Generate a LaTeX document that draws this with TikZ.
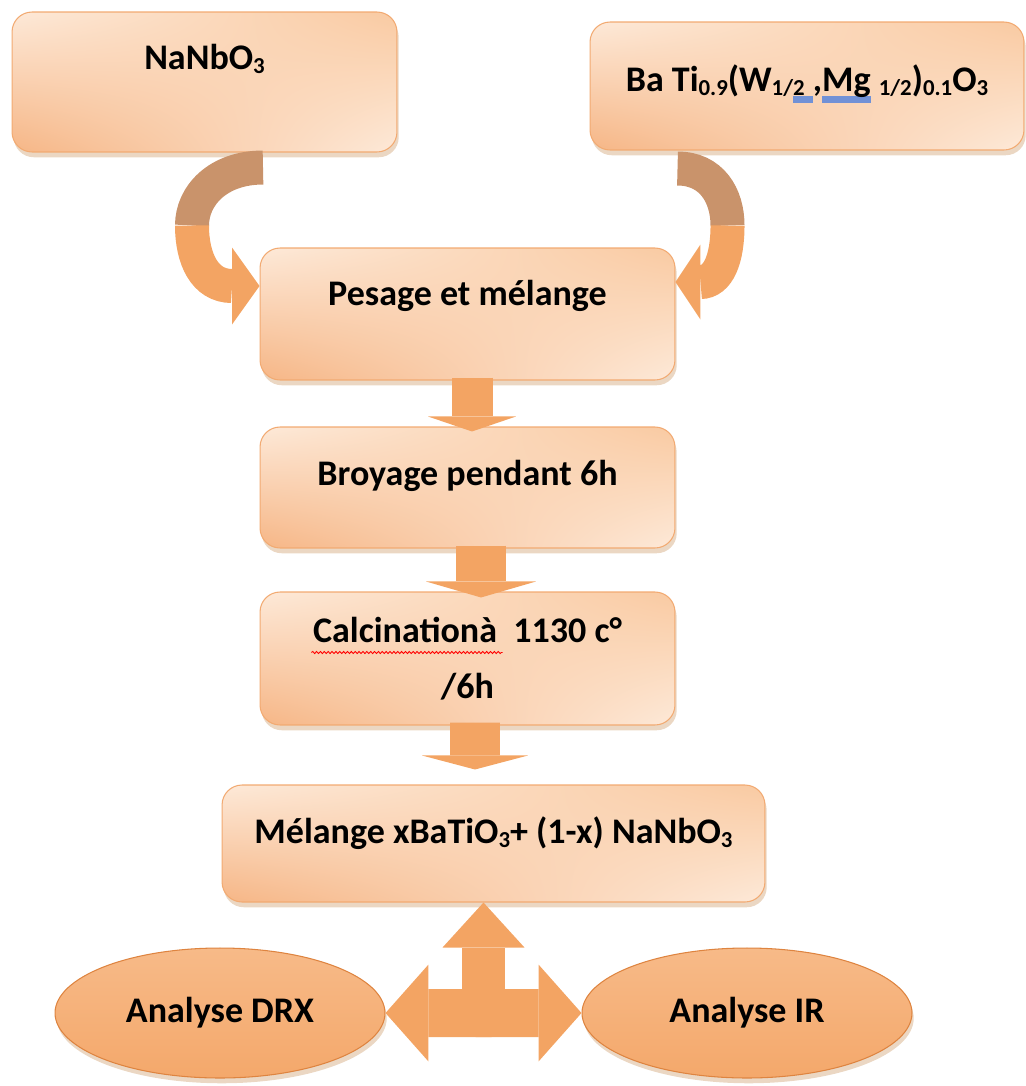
\documentclass[tikz,border=0pt]{standalone}
\usepackage{fontspec}
\setmainfont{Carlito}
\usepackage{calc}
\usetikzlibrary{arrows.meta,calc,positioning,shapes,shadows,shadings}
\usetikzlibrary{decorations.pathmorphing}
\definecolor{boxedge}{HTML}{F2AA72}
\definecolor{boxdark}{HTML}{F6B686}
\definecolor{boxmid}{HTML}{F9CAA2}
\definecolor{boxlight}{HTML}{FDE9D8}
\definecolor{ovaltop}{HTML}{F7BA88}
\definecolor{ovalmid}{HTML}{F1923E}
\definecolor{ovalbot}{HTML}{F4A86B}
\definecolor{ovaledge}{HTML}{DE8440}
\definecolor{flowfill}{HTML}{F3A463}
\definecolor{backfill}{HTML}{C9936B}
\definecolor{markblue}{HTML}{7191D6}
\newcommand\subs[1]{\raisebox{-0.12em}{\fontsize{13}{13}\selectfont #1}}
\newcommand\gmark[1]{\rlap{\textcolor{markblue}{\rule[-0.32em]{\widthof{#1}}{0.2em}}}#1}
\tikzset{
chart/.style={x=0.02cm,y=-0.02cm,font=\bfseries\fontsize{20.5}{32}\selectfont},
stage/.style={rectangle,rounded corners=0.4cm,draw=boxedge,line width=0.6pt,
    shade,lower left=boxdark,upper right=boxmid,upper left=boxlight,lower right=boxlight,
    drop shadow={shadow xshift=1pt,shadow yshift=-3pt,opacity=0.45,fill=brown!70},
    minimum width=8.3cm,minimum height=#1,align=center},
stage/.default={2.6cm},
oval/.style={ellipse,draw=ovaledge,line width=0.6pt,
    shade,top color=ovaltop,middle color=ovalmid,bottom color=ovalbot,
    drop shadow={shadow xshift=1pt,shadow yshift=-3pt,opacity=0.45,fill=brown!70},
    minimum width=6.6cm,minimum height=2.6cm},
fat/.style={draw=flowfill,line width=#1},
feed/.style={line width=0.68cm},
spell/.style={draw=red,line width=0.5pt,decorate,
    decoration={snake,amplitude=0.6pt,segment length=2.2pt}},
}

\begin{document}
\begin{tikzpicture}[chart]
    \useasboundingbox (0,0) rectangle (1026,1086);

    \node[stage=2.8cm,minimum width=7.7cm,text depth=1cm] (na) at (204.5,82) {NaNbO\subs{3}};
    \node[stage=2.56cm,minimum width=8.68cm,text depth=0.32cm] (bt) at (807,86)
        {Ba Ti\subs{0.9}(W\subs{1/}\gmark{\subs{2}\ },\gmark{Mg} \subs{1/2})\subs{0.1}O\subs{3}};
    \node[stage=2.64cm,text depth=0.84cm] (pes) at (467.5,314) {Pesage et mélange};
    \node[stage=2.42cm,text depth=0.58cm] (bro) at (467.5,487.5) {Broyage pendant 6h};
    \node[stage=2.66cm] (cal) at (467.5,658.5) {Calcinationà\ \ 1130 c°\\/6h};
    \node[stage=2.34cm,minimum width=10.86cm,text depth=0.54cm] (mel) at (493.5,843.5)
        {Mélange xBaTiO\subs{3}+ (1-x) NaNbO\subs{3}};
    \node[oval] (drx) at (220,1013) {Analyse DRX};
    \node[oval] (ir) at (747,1013) {Analyse IR};

    \draw[spell] ($(cal.center)+(-156,-6)$) -- ($(cal.center)+(35,-6)$);

    % curved feeds into the weighing step
    \coordinate (lstart) at ($(na.south)+(58.5,15)$);
    \coordinate (lturn) at ($(lstart)+(-71,58)$);
    \draw[feed,draw=backfill] (lstart) .. controls +(-45,0) and +(0,-30) .. (lturn);
    \draw[feed,draw=flowfill,-{Triangle[length=0.55cm,width=1.54cm,line width=0pt]}]
        (lturn) .. controls +(0,33) and +(-55,0) .. ($(pes.west)+(0,-28)$);
    \coordinate (rstart) at ($(bt.south west)+(88,18)$);
    \coordinate (rturn) at ($(rstart)+(50,57)$);
    \draw[feed,draw=backfill] (rstart) .. controls +(34,0) and +(0,-30) .. (rturn);
    \draw[feed,draw=flowfill,-{Triangle[length=0.5cm,width=1.5cm,line width=0pt]}]
        (rturn) .. controls +(0,33) and +(43,0) .. ($(pes.east)+(0,-32)$);

    \draw[fat=0.82cm,-{Triangle[length=0.3cm,width=1.76cm,line width=0pt]}]
        ($(pes.south)+(4.5,-3)$) -- ($(bro.north)+(4.5,5)$);
    \draw[fat=1cm,-{Triangle[length=0.32cm,width=2.2cm,line width=0pt]}]
        ($(bro.south)+(13.5,-3)$) -- ($(cal.north)+(13.5,6)$);
    \draw[fat=1cm,-{Triangle[length=0.28cm,width=2.12cm,line width=0pt]}]
        ($(cal.south)+(7.5,-3)$) -- ($(mel.north)+(-18.5,-15)$);

    % three-way arrow under the mixture
    \coordinate (hub) at ($(drx.east)!0.5!(ir.west)$);
    \draw[fat=0.96cm,-{Triangle[length=0.86cm,width=1.94cm,line width=0pt]}]
        ($(hub)+(8,0)$) -- (drx.east);
    \draw[fat=0.96cm,-{Triangle[length=0.86cm,width=1.94cm,line width=0pt]}]
        ($(hub)+(-8,0)$) -- (ir.west);
    \draw[fat=0.88cm,-{Triangle[length=0.9cm,width=1.64cm,line width=0pt]}]
        ($(hub)+(0,-10)$) -- (hub |- mel.south);
\end{tikzpicture}
\end{document}
